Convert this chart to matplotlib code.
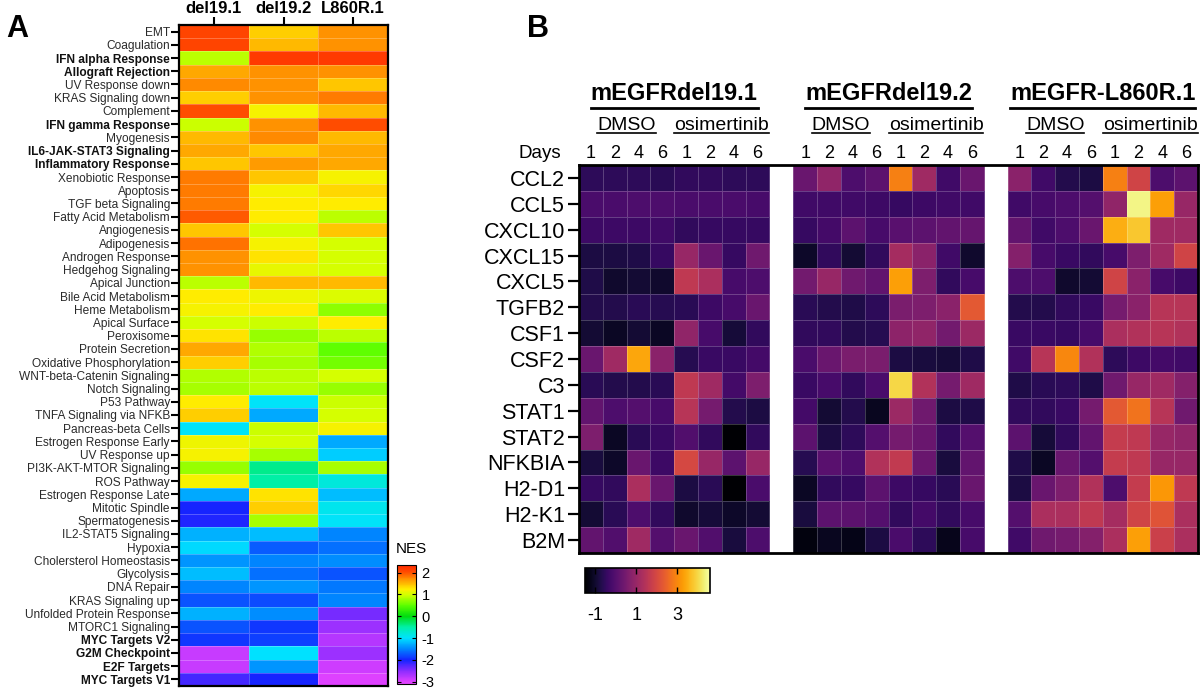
import numpy as np
import matplotlib
matplotlib.use("Agg")
import matplotlib.pyplot as plt
from matplotlib.colors import LinearSegmentedColormap
from matplotlib.lines import Line2D
from matplotlib.transforms import blended_transform_factory

plt.rcParams['font.family'] = ['Liberation Sans', 'DejaVu Sans']
plt.rcParams['axes.unicode_minus'] = False

# ---------------- Panel A data ----------------
a_cols = ["del19.1", "del19.2", "L860R.1"]
pathways = [
    "EMT", "Coagulation", "IFN alpha Response", "Allograft Rejection", "UV Response down",
    "KRAS Signaling down", "Complement", "IFN gamma Response", "Myogenesis",
    "IL6-JAK-STAT3 Signaling", "Inflammatory Response", "Xenobiotic Response", "Apoptosis",
    "TGF beta Signaling", "Fatty Acid Metabolism", "Angiogenesis", "Adipogenesis",
    "Androgen Response", "Hedgehog Signaling", "Apical Junction", "Bile Acid Metabolism",
    "Heme Metabolism", "Apical Surface", "Peroxisome", "Protein Secretion",
    "Oxidative Phosphorylation", "WNT-beta-Catenin Signaling", "Notch Signaling",
    "P53 Pathway", "TNFA Signaling via NFKB", "Pancreas-beta Cells",
    "Estrogen Response Early", "UV Response up", "PI3K-AKT-MTOR Signaling", "ROS Pathway",
    "Estrogen Response Late", "Mitotic Spindle", "Spermatogenesis", "IL2-STAT5 Signaling",
    "Hypoxia", "Cholersterol Homeostasis", "Glycolysis", "DNA Repair", "KRAS Signaling up",
    "Unfolded Protein Response", "MTORC1 Signaling", "MYC Targets V2", "G2M Checkpoint",
    "E2F Targets", "MYC Targets V1",
]
bold_pathways = ["IFN alpha Response", "Allograft Rejection", "IFN gamma Response",
                 "IL6-JAK-STAT3 Signaling", "Inflammatory Response", "MYC Targets V2",
                 "G2M Checkpoint", "E2F Targets", "MYC Targets V1"]
a_del19_1 = [2.1, 2.1, 0.9, 1.6, 1.75, 1.4, 2.05, 0.95, 1.5, 1.6, 1.45, 1.8, 1.8, 1.8, 1.95,
             1.45, 1.85, 1.7, 1.7, 0.9, 1.25, 1.2, 1.0, 1.3, 1.6, 1.4, 0.85, 0.8, 1.25, 1.4,
             -0.95, 1.15, 1.2, 0.75, 1.2, -1.3, -2.0, -2.05, -1.25, -1.05, -1.4, -1.2, -1.5,
             -1.75, -1.25, -1.75, -1.9, -2.85, -2.85, -2.2]
a_del19_2 = [1.4, 1.5, 2.2, 1.7, 1.7, 1.7, 1.2, 1.7, 1.75, 1.45, 1.65, 1.45, 1.2, 1.25, 1.25,
             1.0, 1.2, 1.3, 1.1, 1.5, 1.15, 1.25, 0.95, 0.75, 0.85, 0.8, 0.9, 0.9, -0.95, -1.3,
             0.95, 1.0, 0.8, -0.4, -0.5, 1.3, 1.4, 0.8, -1.2, -1.7, -1.5, -1.6, -1.4, -1.8,
             -1.45, -1.9, -1.85, -1.0, -1.4, -2.0]
a_l860r_1 = [1.7, 1.7, 2.2, 1.7, 1.45, 1.8, 1.5, 2.05, 1.5, 1.6, 1.6, 1.2, 1.35, 1.25, 0.9,
             1.45, 1.0, 1.0, 1.0, 1.5, 1.05, 0.7, 1.25, 0.9, 0.5, 0.6, 1.0, 0.75, 0.95, 1.0,
             1.2, -1.3, -1.1, 0.8, -0.8, -1.2, -0.9, -0.95, -1.5, -1.6, -1.45, -1.75, -1.55,
             -1.5, -2.4, -2.6, -2.75, -2.6, -2.9, -3.0]
a_ticks = [2, 1, 0, -1, -2, -3]

# ---------------- Panel B data ----------------
genes = ["CCL2", "CCL5", "CXCL10", "CXCL15", "CXCL5", "TGFB2", "CSF1", "CSF2", "C3",
         "STAT1", "STAT2", "NFKBIA", "H2-D1", "H2-K1", "B2M"]
b_groups = ["mEGFRdel19.1", "mEGFRdel19.2", "mEGFR-L860R.1"]
b_treat = ["DMSO", "osimertinib"]
b_days = ["1", "2", "4", "6"]
b_del19_1 = [
    [-0.55, -0.55, -0.55, -0.6, -0.5, -0.5, -0.55, -0.55],
    [-0.15, -0.15, -0.1, -0.1, -0.15, -0.15, -0.15, -0.2],
    [-0.35, -0.35, -0.35, -0.3, -0.5, -0.45, -0.45, -0.45],
    [-0.8, -0.8, -0.75, -0.45, 1.0, 0.3, -0.45, 0.4],
    [-0.75, -1.0, -0.95, -1.0, 1.6, 1.3, -0.2, -0.1],
    [-0.7, -0.7, -0.6, -0.65, -0.6, -0.35, -0.2, 0.3],
    [-0.95, -1.1, -0.95, -1.1, 0.9, -0.2, -0.9, -0.5],
    [0.3, 1.1, 3.4, 0.8, -0.65, -0.4, -0.4, -0.25],
    [-0.6, -0.7, -0.7, -0.6, 1.6, 1.1, -0.25, 0.6],
    [0.2, -0.1, 0.0, -0.2, 1.5, 0.5, -0.7, -0.8],
    [0.6, -1.1, -0.6, -0.4, -0.05, -0.5, -1.5, -0.5],
    [-0.85, -1.05, 0.3, -0.35, 2.0, 1.0, 0.1, 1.0],
    [-0.45, -0.5, 1.3, 0.3, -0.8, -0.6, -1.5, -0.15],
    [-0.95, -0.6, -0.1, -0.5, -1.0, -0.9, -1.05, -0.95],
    [0.2, -0.05, 1.1, 0.0, 0.3, -0.05, -0.85, -0.1],
]
b_del19_2 = [
    [0.3, 0.9, -0.1, 0.1, 2.9, 1.1, -0.3, 0.3],
    [-0.3, -0.3, -0.3, -0.35, -0.45, -0.35, -0.3, -0.3],
    [-0.45, -0.25, 0.1, -0.2, 0.05, 0.1, 0.2, 0.25],
    [-1.05, -0.5, -0.95, -0.5, 1.2, 0.8, -0.3, -1.0],
    [0.45, 1.0, 0.4, 0.2, 3.3, 0.6, -0.5, -0.2],
    [-0.6, -0.7, -0.75, -0.55, 0.55, 0.6, 0.8, 2.3],
    [-0.5, -0.5, -0.7, -0.65, 0.85, 0.9, 0.45, 1.05],
    [-0.15, 0.3, 0.55, 0.55, -0.8, -0.85, -0.9, -0.75],
    [-0.4, -0.2, -0.5, -0.15, 4.0, 1.4, 0.5, 1.1],
    [-0.25, -0.95, -0.7, -1.15, 1.05, 0.4, -0.8, -0.75],
    [0.1, -0.8, -0.55, 0.0, 0.5, 0.3, -0.5, 0.0],
    [-0.65, 0.05, -0.1, 1.4, 1.65, 0.3, -0.85, 0.2],
    [-1.1, -0.5, -0.45, 0.1, -0.35, -0.45, -0.6, 0.3],
    [-0.85, 0.1, 0.1, 0.0, -0.5, -0.25, -0.5, -0.2],
    [-1.35, -1.15, -1.25, -0.8, -0.15, -0.55, -1.2, -0.2],
]
b_l860r_1 = [
    [0.8, -0.3, -0.7, -0.8, 2.9, 1.9, -0.1, 0.1],
    [-0.3, -0.2, -0.1, 0.0, 0.9, 4.4, 3.3, 1.0],
    [0.2, -0.3, -0.1, 0.3, 3.5, 3.8, 1.1, 1.1],
    [0.7, -0.2, -0.4, -0.5, -0.2, 0.6, 1.1, 1.9],
    [-0.1, -0.1, -1.0, -0.95, 1.9, 0.8, -0.2, -0.35],
    [-0.7, -0.7, -0.5, -0.4, 0.5, 0.8, 1.5, 1.5],
    [-0.4, -0.4, -0.45, -0.2, 1.3, 1.4, 1.5, 1.4],
    [-0.3, 1.5, 3.0, 1.4, -0.55, -0.35, -0.25, -0.3],
    [-0.75, -0.6, -0.55, -0.75, 0.4, 1.0, 1.1, 0.7],
    [-0.5, -0.5, -0.4, 0.5, 2.3, 2.7, 1.5, 0.4],
    [0.1, -0.9, -0.5, 0.2, 1.7, 1.6, 1.0, 0.9],
    [-0.75, -1.1, 0.3, 0.0, 1.7, 1.6, 1.0, 1.0],
    [-0.8, 0.3, 0.6, 1.4, -0.1, 1.7, 3.2, 1.6],
    [0.0, 1.3, 1.3, 1.6, 1.2, 1.9, 2.2, 1.3],
    [-0.3, 0.4, 0.5, 0.7, 1.3, 3.3, 1.8, 1.3],
]
b_ticks = [-1, 1, 3]

# ---------------- helpers ----------------
W, H = 1200, 693
fig = plt.figure(figsize=(12, 6.93), dpi=100)


def fx(x):
    return x / W


def fy(y):
    return 1 - y / H


def box(l, t, r, b):
    return [fx(l), fy(b), (r - l) / W, (b - t) / H]


# ---------------- Panel A ----------------
a_vmin, a_vmax = -3.1, 2.35
anchors = [(-3.1, '#e244ff'), (-3.0, '#dd40ff'), (-2.5, '#8a2cff'), (-2.0, '#1424ff'),
           (-1.5, '#0084ff'), (-1.0, '#00e2ff'), (-0.5, '#00f0a8'), (0.0, '#00dc10'),
           (0.5, '#5cff00'), (1.0, '#d4ff00'), (1.25, '#ffee00'), (1.5, '#ffbc00'),
           (1.75, '#ff8a00'), (2.0, '#ff5200'), (2.35, '#ff2800')]
cmapA = LinearSegmentedColormap.from_list(
    'nes', [((v - a_vmin) / (a_vmax - a_vmin), c) for v, c in anchors])

axA = fig.add_axes(box(179, 25, 388, 686))
nesA = np.array([a_del19_1, a_del19_2, a_l860r_1]).T
meshA = axA.pcolormesh(nesA, cmap=cmapA, vmin=a_vmin, vmax=a_vmax,
                       edgecolors=(1, 1, 1, 0.25), linewidth=0.5)
axA.set_xlim(0, 3)
axA.set_ylim(len(pathways), 0)
axA.set_xticks(np.arange(3) + 0.5)
axA.set_xticklabels(a_cols, fontweight='bold', fontsize=12)
axA.xaxis.tick_top()
axA.set_yticks(np.arange(len(pathways)) + 0.5)
axA.set_yticklabels(pathways, fontsize=8.6, color='#2a2a2a')
for lab in axA.get_yticklabels():
    if lab.get_text() in bold_pathways:
        lab.set_fontweight('bold')
        lab.set_color('#111111')
axA.tick_params(axis='y', length=5.5, width=1.5, pad=1)
axA.tick_params(axis='x', length=5.5, width=1.5, pad=1)
for s in axA.spines.values():
    s.set_linewidth(1.6)

caxA = fig.add_axes(box(397, 565, 416, 684))
cbA = fig.colorbar(meshA, cax=caxA, ticks=a_ticks)
cbA.ax.tick_params(direction='in', length=3, width=0.8, labelsize=10.5, left=True,
                   right=True, pad=4)
cbA.outline.set_linewidth(0.8)
fig.text(fx(396), fy(553), "NES", fontsize=11, ha='left', va='baseline')

fig.text(fx(17), fy(37), "A", fontsize=22, fontweight='bold', ha='center', va='baseline')

# ---------------- Panel B ----------------
b_vmin, b_vmax = -1.5, 4.6
axB = fig.add_axes(box(579, 165, 1198, 553))
b_data = [np.array(b_del19_1), np.array(b_del19_2), np.array(b_l860r_1)]
ncol = len(b_treat) * len(b_days)
step = ncol + 1
meshB = None
for g, d in enumerate(b_data):
    xe = np.arange(ncol + 1) + g * step
    ye = np.arange(len(genes) + 1)
    meshB = axB.pcolormesh(xe, ye, d, cmap='inferno', vmin=b_vmin, vmax=b_vmax,
                           edgecolors=(1, 1, 1, 0.22), linewidth=0.6)
axB.set_xlim(0, len(b_data) * step - 1)
axB.set_ylim(len(genes), 0)
axB.set_yticks(np.arange(len(genes)) + 0.5)
axB.set_yticklabels(genes, fontsize=15.5)
axB.set_xticks([])
axB.tick_params(axis='y', length=8, width=1.6, pad=2)
for s in axB.spines.values():
    s.set_linewidth(2)

trB = blended_transform_factory(axB.transData, fig.transFigure)
renderer = fig.canvas.get_renderer()


def underline(t, ypix, lw):
    bb = t.get_window_extent(renderer=renderer)
    fig.add_artist(Line2D([bb.x0 / W, bb.x1 / W], [fy(ypix)] * 2,
                          transform=fig.transFigure, color='black', linewidth=lw))


for g, name in enumerate(b_groups):
    x0 = g * step
    t = axB.text(x0 + ncol / 2, fy(100), name, transform=trB, fontsize=17,
                 fontweight='bold', ha='center', va='baseline')
    underline(t, 107.5, 2.0)
    for k, tr in enumerate(b_treat):
        t2 = axB.text(x0 + k * len(b_days) + len(b_days) / 2, fy(130.5), tr,
                      transform=trB, fontsize=14, ha='center', va='baseline')
        underline(t2, 132.5, 1.2)
        for j, dd in enumerate(b_days):
            axB.text(x0 + k * len(b_days) + j + 0.5, fy(157.5), dd, transform=trB,
                     fontsize=13, ha='center', va='baseline')

fig.text(fx(561), fy(157.5), "Days", fontsize=13.5, ha='right', va='baseline')
fig.text(fx(538), fy(37), "B", fontsize=22, fontweight='bold', ha='center', va='baseline')

caxB = fig.add_axes(box(585, 568, 710, 593))
cbB = fig.colorbar(meshB, cax=caxB, orientation='horizontal', ticks=b_ticks)
cbB.ax.tick_params(direction='in', length=4, width=1, labelsize=13, top=True,
                   bottom=True, pad=10)
cbB.outline.set_linewidth(1.2)

fig.savefig("out.png", dpi=100)
